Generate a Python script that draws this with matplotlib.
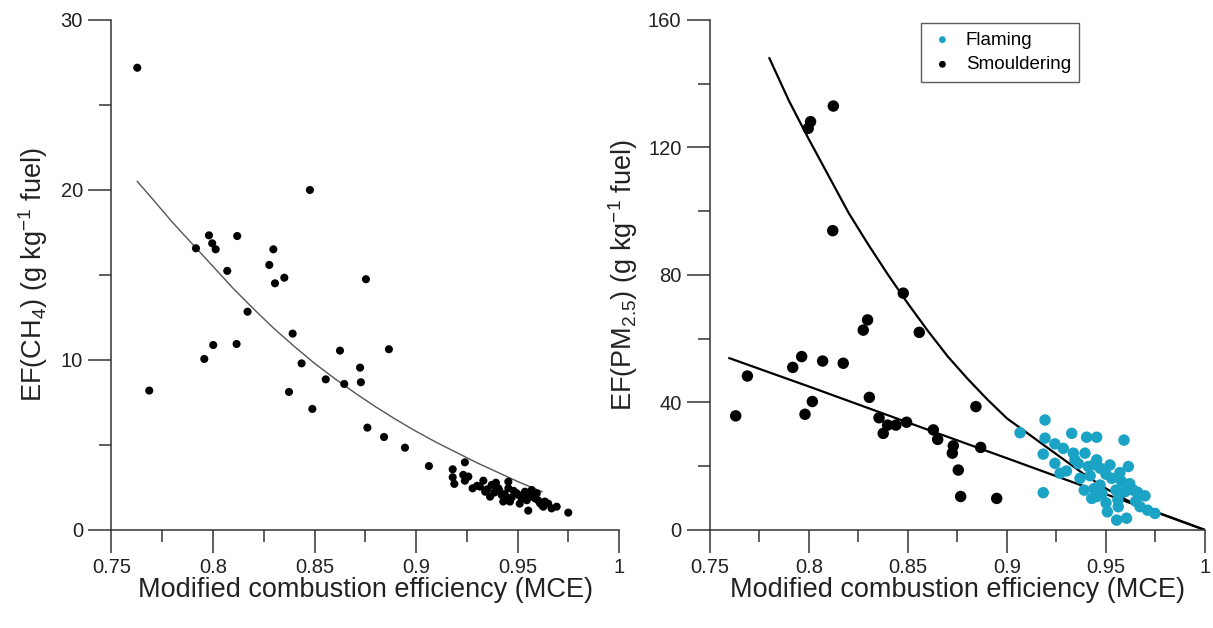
import numpy as np
import matplotlib
matplotlib.use('Agg')
import matplotlib.pyplot as plt

plt.rcParams['font.family'] = ['Liberation Sans', 'DejaVu Sans']
plt.rcParams['mathtext.fontset'] = 'custom'
plt.rcParams['mathtext.rm'] = 'Liberation Sans'
plt.rcParams['mathtext.it'] = 'Liberation Sans'
plt.rcParams['mathtext.default'] = 'regular'

#---------------- Panel izquierdo: EF(CH4) ----------------
ch4_mce = [0.7627, 0.8477, 0.7980, 0.8119, 0.7916, 0.7996, 0.8013, 0.8297, 0.8277,
           0.8070, 0.8351, 0.8305, 0.8753, 0.8170, 0.8392, 0.8001, 0.8116, 0.7957,
           0.7686, 0.8625, 0.8866, 0.8436, 0.8724, 0.8555, 0.8646, 0.8728, 0.8374,
           0.8489, 0.8760, 0.8842, 0.8945, 0.9063,
           0.9240, 0.9180, 0.9180, 0.9188, 0.9232, 0.9257, 0.9240, 0.9278, 0.9331,
           0.9314, 0.9350, 0.9372, 0.9393, 0.9405, 0.9364, 0.9421, 0.9454, 0.9454,
           0.9429, 0.9462, 0.9495, 0.9520, 0.9536, 0.9569, 0.9561, 0.9585, 0.9594,
           0.9552, 0.9610, 0.9634, 0.9626, 0.9667, 0.9692, 0.9749, 0.9300, 0.9340,
           0.9385, 0.9410, 0.9440, 0.9470, 0.9480, 0.9505, 0.9530, 0.9545, 0.9600,
           0.9620, 0.9650, 0.9395, 0.9435, 0.9510]
ch4_ef = [27.19, 20.0, 17.33, 17.29, 16.57, 16.86, 16.51, 16.51, 15.59,
          15.24, 14.84, 14.51, 14.75, 12.84, 11.55, 10.88, 10.94, 10.06,
          8.2, 10.55, 10.63, 9.80, 9.55, 8.86, 8.59, 8.69, 8.12,
          7.12, 6.02, 5.47, 4.84, 3.76,
          3.98, 3.57, 3.10, 2.71, 3.24, 3.14, 2.90, 2.45, 2.90,
          2.55, 2.39, 2.65, 2.78, 2.45, 1.96, 2.06, 2.84, 2.45,
          1.67, 1.67, 2.16, 1.86, 2.25, 2.35, 1.96, 1.86, 2.16,
          1.14, 1.57, 1.67, 1.37, 1.27, 1.37, 1.02, 2.60, 2.25,
          2.20, 2.30, 2.00, 1.90, 2.30, 2.05, 1.95, 1.75, 1.75,
          1.45, 1.55, 2.50, 2.10, 1.55]

# curva de ajuste
ch4_fit_x = [0.7627, 0.77, 0.78, 0.79, 0.80, 0.81, 0.82, 0.83, 0.84, 0.85, 0.86,
             0.87, 0.88, 0.89, 0.90, 0.91, 0.92, 0.93, 0.94, 0.95, 0.962]
ch4_fit_y = [20.5, 19.5, 18.1, 16.8, 15.5, 14.2, 13.0, 11.85, 10.8, 9.8, 8.9,
             8.05, 7.25, 6.5, 5.8, 5.15, 4.55, 3.95, 3.4, 2.85, 2.25]

#---------------- Panel derecho: EF(PM2.5) ----------------
smo_mce = [0.8123, 0.8008, 0.7996, 0.8120, 0.8476, 0.8557, 0.8296, 0.8274, 0.7963,
           0.7918, 0.8069, 0.8173, 0.7689, 0.8017, 0.8305, 0.8843, 0.7630, 0.7980,
           0.8354, 0.8397, 0.8439, 0.8493, 0.8375, 0.8628, 0.8650, 0.8729, 0.8724,
           0.8867, 0.8754, 0.8766, 0.8948]
smo_ef = [133.0, 128.1, 126.0, 93.9, 74.3, 62.0, 65.9, 62.7, 54.4,
          51.0, 53.0, 52.3, 48.3, 40.3, 41.6, 38.7, 35.8, 36.3,
          35.2, 32.9, 32.9, 33.8, 30.3, 31.4, 28.4, 26.4, 24.1,
          25.9, 18.8, 10.5, 9.9]

fla_mce = [0.9066, 0.9192, 0.9192, 0.9183, 0.9183, 0.9242, 0.9284, 0.9327, 0.9242,
           0.9268, 0.9335, 0.9343, 0.9369, 0.9394, 0.9402, 0.9453, 0.9411, 0.9453,
           0.9470, 0.9428, 0.9453, 0.9470, 0.9520, 0.9529, 0.9507, 0.9562, 0.9554,
           0.9591, 0.9579, 0.9596, 0.9613, 0.9638, 0.9604, 0.9672, 0.9697, 0.9747,
           0.9300, 0.9360, 0.9420, 0.9440, 0.9480, 0.9500, 0.9550, 0.9560, 0.9570,
           0.9620, 0.9650, 0.9660, 0.9440, 0.9390, 0.9500, 0.9710]
fla_ef = [30.5, 34.5, 28.8, 23.8, 11.7, 27.0, 25.6, 30.3, 20.9,
          17.8, 24.1, 22.0, 16.2, 24.1, 29.1, 29.1, 19.9, 22.0,
          19.4, 9.9, 10.5, 14.1, 20.4, 16.2, 5.7, 7.3, 3.1,
          28.2, 15.2, 12.0, 19.9, 12.5, 3.7, 7.3, 10.7, 5.2,
          18.5, 20.8, 17.0, 13.0, 11.5, 17.5, 12.5, 9.5, 18.0,
          14.5, 9.0, 11.8, 20.5, 12.5, 8.5, 6.2]

# curvas de ajuste
upper_x = [0.78, 0.79, 0.80, 0.81, 0.82, 0.83, 0.84, 0.85, 0.86, 0.87, 0.88, 0.89,
           0.90, 0.91, 0.92, 0.93, 0.94, 0.95, 0.96, 0.97, 0.98, 0.99, 1.0]
upper_y = [148, 134.5, 122.5, 111, 99.5, 89.5, 80, 71, 62.5, 54.5, 47.5, 41,
           35, 30.5, 26, 21.5, 17, 13, 9.5, 6.8, 4.6, 2.3, 0]
lower_x = [0.7598, 0.80, 0.85, 0.90, 0.95, 0.98, 1.0]
lower_y = [53.9, 45.0, 33.7, 22.5, 11.2, 4.5, 0]

flaming_color = '#1ba3c6'
axis_color = '#333333'
text_color = '#222222'


def style_axes(ax, ymax, ymajor, yminor):
    ax.set_xlim(0.75, 1.0)
    ax.set_ylim(0, ymax)
    ax.set_xticks([0.75, 0.8, 0.85, 0.9, 0.95, 1.0])
    ax.set_xticklabels(['0.75', '0.8', '0.85', '0.9', '0.95', '1'])
    ax.set_xticks(np.arange(0.775, 1.0, 0.05), minor=True)
    ax.set_yticks(np.arange(0, ymax + 1, ymajor))
    ax.set_yticks(np.arange(yminor, ymax, ymajor), minor=True)
    for s in ['top', 'right']:
        ax.spines[s].set_visible(False)
    for s in ['left', 'bottom']:
        ax.spines[s].set_color(axis_color)
        ax.spines[s].set_linewidth(1.1)
    ax.tick_params(which='major', direction='out', length=16.5, width=1.1,
                   color=axis_color, labelsize=14.5, labelcolor=text_color, pad=4)
    ax.tick_params(which='minor', direction='out', length=8.5, width=1.1,
                   color=axis_color)
    ax.set_xlabel('Modified combustion efficiency (MCE)', fontsize=19.5,
                  color=text_color, labelpad=0)


fig = plt.figure(figsize=(12.13, 6.28), dpi=100)
ax1 = fig.add_axes([0.0919, 0.1561, 0.4186, 0.8121])
ax2 = fig.add_axes([0.5853, 0.1561, 0.4081, 0.8121])

# izquierda
ax1.plot(ch4_fit_x, ch4_fit_y, color='#555555', lw=1.0, zorder=2)
ax1.scatter(ch4_mce, ch4_ef, s=34, color='black', edgecolors='none', zorder=3)
style_axes(ax1, 30, 10, 5)
ax1.set_ylabel('EF(CH$_4$) (g kg$^{-1}$ fuel)', fontsize=19.5, color=text_color, labelpad=8)

# derecha
ax2.plot(upper_x, upper_y, color='black', lw=1.6, zorder=2)
ax2.plot(lower_x, lower_y, color='black', lw=1.6, zorder=2)
ax2.scatter(fla_mce, fla_ef, s=68, color=flaming_color, edgecolors='none', zorder=3,
            label='Flaming')
ax2.scatter(smo_mce, smo_ef, s=68, color='black', edgecolors='none', zorder=3,
            label='Smouldering')
style_axes(ax2, 160, 40, 20)
ax2.set_ylabel('EF(PM$_{2.5}$) (g kg$^{-1}$ fuel)', fontsize=19.5, color=text_color, labelpad=6)

leg = ax2.legend(loc='upper left', bbox_to_anchor=(0.426, 0.994), borderaxespad=0,
                 fontsize=13.5, markerscale=0.6, handletextpad=0.55, handlelength=1.4,
                 frameon=True, fancybox=False, borderpad=0.45, labelspacing=0.4)
leg.get_frame().set_edgecolor('#333333')
leg.get_frame().set_linewidth(1.0)

fig.savefig('out.png', dpi=100)
